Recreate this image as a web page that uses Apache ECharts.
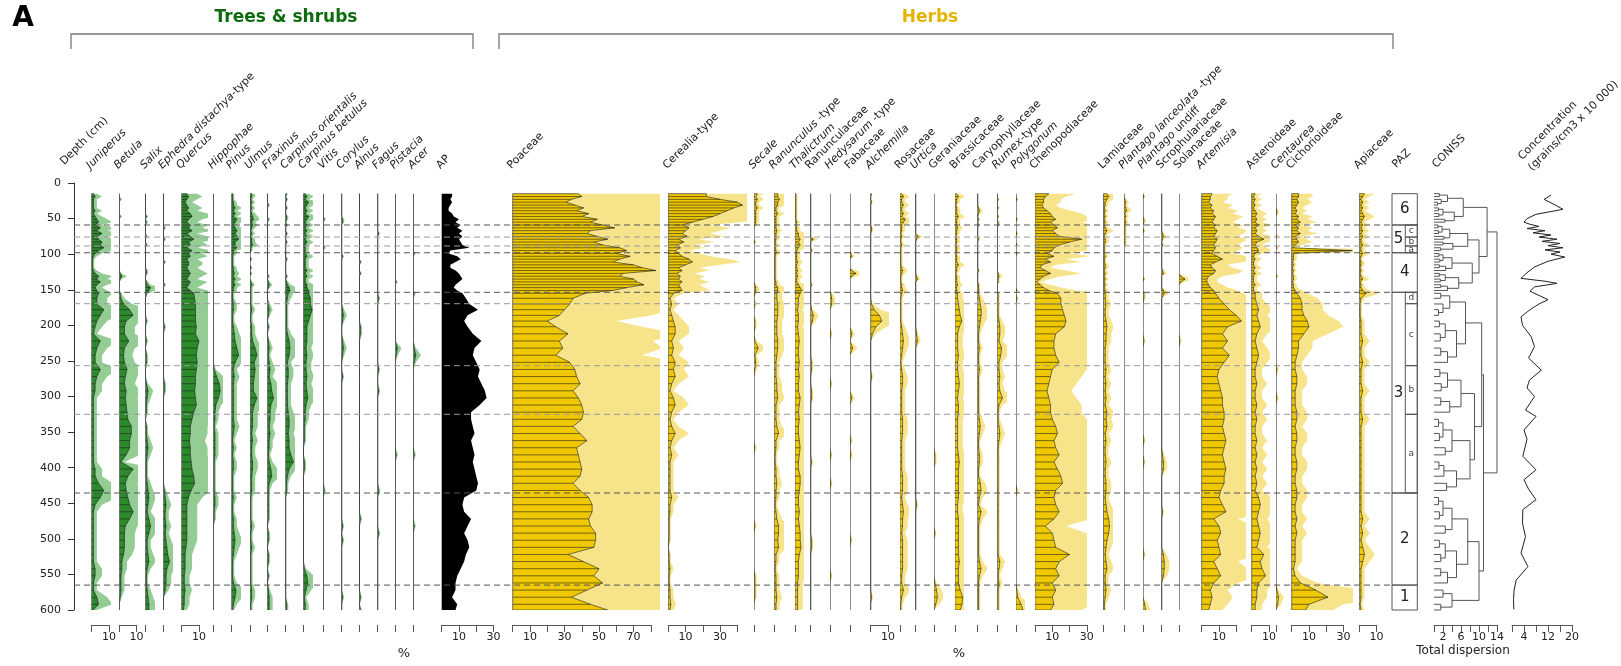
<!DOCTYPE html>
<html><head><meta charset="utf-8">
<script src="https://cdn.jsdelivr.net/npm/echarts@6/dist/echarts.min.js"></script>
<style>html,body{margin:0;padding:0;background:#fff}#c{width:1621px;height:666px}</style>
</head><body><div id="c"></div>
<script>
// ---------------- DATA ----------------
const depths = [15,19,23,27,31,35,39,43,47,51,55,59,63,67,71,75,79,83,87,91,95,99,103,107,111,115,119,123,127,131,135,139,143,147,151,155,
162,170,178,186,194,202,212,222,232,242,252,262,272,282,292,302,312,322,332,342,352,362,372,382,392,402,412,422,432,442,452,462,472,482,492,502,512,522,532,542,552,562,572,582,592,600];

const juniperus = [1,2,1,1,1,1,2,1,2,3, 4,2,5,3,6,3,4,6,5,7, 4,2,1,0.5,0.5,0.5,0.5,1,2,4, 3,5,3,2,3,4,
 3,3,7,5,3,2,1,5,3,2, 2,5,3,2,2,1,1,1,1,1, 1,1,1,1,1,2,2,4,7,5, 2,1,1,1,1,1,1,1,1,2, 2,1,1,3,4,1];
const betula = [0,0,0.5,0,0,0,0,0,0.5,0, 0,0,0,0,0,0,0,0,0,0, 0,0,0,0,0,0,0,0,0.5,1.5, 0.5,0,0,0,0,0.5,
 1,2.5,6,8,4,3,3,5.5,3,2.5, 3,4.5,3.5,3,4,3.5,4,4.5,5,7, 7,6,6,4,1,8,5,3.5,4,5, 6,8,6,3.5,3,3,3,2.5,1.5,1.5, 1,1,1,0.5,0,0];
const salix = [0,0,0,0,0,0,0,0,0.5,0, 0.5,0,0,0,0,0.5,0,0,0.5,0, 0,0,0,0,0,0,0,0.5,0.5,0, 0,0.5,1,3,2,0.5,
 0,0,0,0,0.5,0,0,0.5,0,0.5, 0.5,0,0,0.5,1.5,1,0.5,0.5,0,0.5, 0.5,1,1.5,1,0.5,0.5,0.5,1,1.5,2, 1.5,1,2,3,2,1,1,1.5,2,1, 0.5,0.5,1,1.5,2,2];
const ephedra = [0,0,0,0,0,0,0,0,0,0, 0,0,0.5,0,0,0,0.5,0,0,0, 0,0,0,0,0.5,0,0,0,0,0, 0,0,0.5,0,0,0,
 0,0,0,0,0,0.5,0,0,0,0, 0,0,0,0.5,0.5,0,0,0,0,0, 0,0,0,0,0,0,0,0,0.5,1, 1.5,1,1,1.5,1,1.5,2,2.5,3.5,2, 1.5,1.5,1,0,0,0];
const quercus = [3,4,3,2,3,4,3,5,6,4, 3,5,4,6,3,5,7,4,5,3, 6,4,5,3,4,4,3,4,5,4, 3,5,4,3,5,7,
 7.5,8,8,8,8,8.5,8,10,9,8.5, 9,8.5,8,8,7.5,8,8.5,7,6,5, 5,4.5,5,5,5.5,6,7,7.5,5.5,4, 3,3,3,3,3,3,2.5,2,2,2, 1.5,1.5,2,1.5,1.5,1];
const hippophae = [0,0,0,0,0,0,0,0,0,0, 0,0,0,0,0,0,0,0,0,0, 0,0,0,0,0,0,0,0,0,0, 0,0,0,0,0,0,
 0,0,0,0,0,0,0,0,0,0, 0,0.5,2,3.5,4,3,1.5,1,1,0.5, 1,1,1,1,0.5,0.5,0.5,0.5,0.5,1, 1,0.5,0.5,0,0,0,0,0,0,0, 0,0,0,0,0,0];
const pinus = [0.5,0.5,0.5,1,1,2,1,2,1,3, 2,1,2,3,2,3,4,2,2,3, 1,1,0.5,0.5,0.5,0.5,1,1,1.5,1, 2,1,2,1,1,0.5,
 0.5,1,1,0.5,0.5,1,1.5,2,3,4, 2,1,1.5,1,1,1,1,1,1,1.5, 1,0.5,1,0.5,1,1,0.5,0.5,0.5,1, 0.5,0.5,1,1,1.5,2,1.5,1,0.5,0.5, 0.5,1,2.5,2,1,0.5];
const ulmus = [1,1,0.5,1,0.5,1,0.5,1,1.5,2, 1,1.5,1,0.5,1,0.5,1,1,1.5,0.5, 0.5,0,0,0.5,0,0,0.5,0,0.5,0, 0,0.5,1,0.5,0.5,0.5,
 0.5,0.5,1,0.5,0.5,1,1,1.5,3,4, 2.5,3,2.5,2,2,4,2.5,1.5,1.5,1.5, 1,1.5,1,1,1.5,1.5,1,1,1,0.5, 0.5,0.5,0.5,1,0.5,0.5,1,0.5,0.5,0.5, 0.5,0.5,1,1,0.5,0.5];
const fraxinus = [0,0,0,0,0.5,0,0,0,0,0.5, 0,0,0,0,0,0,0,0,0,0, 0,0,0,0,0,0,0,0,0,0.5, 0,0.5,1,0.5,0,0,
 0,0.5,1,0.5,0,0.5,0,0.5,1,0.5, 1,1.5,1,2,2.5,3.5,2,1.5,1.5,1, 1.5,1,1,0.5,1,2,2.5,1,0.5,0.5, 0.5,0.5,0.5,0,0.5,0.5,0,0.5,0.5,0, 0.5,0,0.5,1,1,1];
const carpinusOrientalis = [0.5,0,0.5,0,0,0.5,0,0,0.5,0.5, 0,0.5,0,0,0.5,0,0,0.5,0,0, 0,0,0,0.5,0,0,0,0,0,0.5, 0,0.5,1,2,2.5,1.5,
 1,0.5,0.5,0.5,0.5,0.5,1,2,2.5,2, 1,1.5,1.5,1,1,1,1,1.5,2,2, 1.5,2,2,3,4.5,2,1,0.5,0.5,0, 0,0,0,0,0,0,0,0,0,0, 0,0,0,0,0.5,0.5];
const carpinusBetulus = [1,2,1,3,2,1,2,1,3,2, 1,2,1,2,1,2,1,2,1,1, 1,1,2,1,1,1,1,2,1,2, 1,1,2,2,3,3,
 4,4,5,4,3,2,2,2,1.5,2, 1.5,1.5,2,1.5,2,2.5,1.5,1,1,0.5, 0.5,0.5,0,0,0.5,0.5,0,0,0,0, 0,0,0,0,0,0,0,0,0,0.5, 2,2.5,1.5,0.5,1,1];
const vitis = [0,0,0,0,0,0,0,0,0,0.5, 0,0,0,0,0,0,0,0,0,0.5, 0,0,0,0,0,0,0,0,0,0, 0,0,0,0,0,0,
 0,0,0,0,0,0,0,0,0,0, 0,0,0,0,0,0,0,0,0,0, 0,0,0,0,0,0,0,0,0.5,0, 0,0,0,0,0,0,0,0,0,0, 0,0,0,0,0,0];
const corylus = [0,0,0,0,0,0,0,0,0,0.5, 0.5,0,0,0,0,0,0,0,0,0, 0,0,0.5,0,0,0,0,0,0,0, 0,0,0,0,0,0,
 0,0,0.5,1,0.5,0,0,0.5,1,0.5, 0,0,0.5,0,0,0,0,0,0,0, 0,0,0,0,0,0,0,0,0,0, 0,0,0,0.5,0,0.5,0,0,0,0, 0,0,0,0.5,0,0];
const alnus = [0,0,0,0,0,0,0,0,0,0, 0,0,0,0,0,0,0,0,0,0, 0,0,0,0,0.5,0,0,0,0.5,0, 0,0,0,0,0,0,
 0,0,0,0,0,0.5,0.5,0,0,0, 0,0,0,0,0,0,0,0,0,0, 0,0,0,0,0,0,0,0,0,0, 0,0,0.5,0,0,0,0,0,0,0, 0,0,0,0.5,0,0.5];
const fagus = [0,0,0,0,0,0,0,0,0,0, 0,0,0,0,0.5,0,0,0,0,0, 0,0,0,0,0,0,0,0,0,0, 0,0,0,0,0,0,
 0.5,0,0,0,0,0,0,0,0,0, 0,0.5,0,0,0.5,0,0,0,0,0, 0,0,0,0,0,0,0,0,0.5,0, 0,0,0,0,0.5,0,0,0,0,0, 0,0,0,0,0,0];
const pistacia = [0,0,0,0,0,0,0,0,0,0, 0,0,0,0,0,0,0,0,0,0, 0,0,0,0,0,0,0,0,0,0, 0,0.5,0,0,0,0,
 0,0,0,0,0,0,0,0,1.2,0.5, 0,0,0,0,0,0,0,0,0,0, 0,0,0,0.5,0,0,0,0,0,0, 0,0,0,0,0,0,0,0,0,0, 0,0,0,0,0,0];
const acer = [0,0,0,0,0,0,0,0,0,0, 0,0,0,0,0,0,0,0,0,0, 0,0.5,0,0,0,0,0,0,0,0, 0,0,0,0,0,0.5,
 0,0,0,0,0,0,0,0,0.5,1.5, 0.5,0,0,0,0,0,0,0,0,0, 0,0,0,0.5,0,0,0,0,0,0, 0,0,0,0.5,0,0,0,0,0,0, 0,0,0,0,0,0];
const ap = [6,6,5,6,5,4,4,6,7,10, 8,11,9,12,10,12,10,11,12,16, 5,4,9,11,8,5,5,8,10,11, 12,10,8,7,9,12,
 14,16,21,15,13,15,18,23,19,18, 20,22,21,23,25,26,22,17,17,18, 19,17,18,19,18,19,20,21,20,13, 12,13,17,15,13,15,16,14,13,11, 9,8,8,6,9,8];

const poaceae = [38,40,34,31,36,41,37,44,40,49, 45,52,59,45,43,49,55,47,52,62, 66,60,68,62,58,70,75,83,64,62, 70,72,76,66,58,42,
 35,33,30,27,20,25,32,27,29,25, 33,36,37,39,35,38,40,41,40,35, 39,43,37,38,39,40,39,35,39,44, 46,46,44,45,48,48,47,32,41,50, 47,52,43,34,45,55];
const cerealia = [22,22,30,40,43,38,34,30,26,20, 14,8,12,10,8,11,6,9,5,7, 4,6,8,12,14,10,6,8,5,7, 6,8,6,7,8,3,
 1,2,1,2,3,4,4,2,3,2, 4,3,4,2,1,3,4,2,1,2, 4,2,1,2,1,1,1,1,1,2, 1,1,0.5,0.5,0.5,0.5,0,0.5,0.5,1, 0.5,0.5,1,1,1.5,1];
const secale = [2,1,2,1,1,2,1,1,1,1, 1,0.5,0,0,0,0,0,0.5,0,0, 0,0,0,0,0,0,0,0,0,0, 0,0,0.5,1,1,0.5,
 0,0.5,0,0,0.5,0.5,0,0.5,2.5,0.5, 1,0.5,0,0,0,0,0,0,0,0, 0,0,0.5,0,0,0,0,0,0,0, 0,0,0,0.5,0,0,0,0,0,0, 0.5,0.5,0.5,0.5,0,0];
const ranunculus = [2,2,3,2,2,1,1,2,1,1, 1,1,1,1.5,1,1,1,0.5,1,0.5, 1,1,0.5,0.5,0.5,0.5,0.5,0.5,0.5,0.5, 0.5,1,1,2,2,1.5,
 1.5,2,2,2,1.5,1.5,1.5,2,2,1.5, 1,1,1,1.5,1.5,2,1,1,1,1.5, 2.5,1,1,0.5,0.5,1,1,1.5,1,1, 0.5,1,1.5,2.5,2.5,2,2.5,1,1,0.5, 1,1,1,1.5,1,1];
const thalictrum = [0.5,0.5,0.5,0.5,0.5,0.5,0.5,0.5,0.5,0.5, 1,0.5,1,1,2,2,3,2,3,2, 1,1,1,1,1.5,1,1,1.5,1,1.5, 1,1,2,3,4,3,
 2,2,1.5,2,2,1.5,2,2.5,2,2, 2.5,2,2.5,2,2,3,2.5,2,2.5,2, 2,2.5,3,2.5,2,2,3,3,2.5,2, 2,2.5,2,2.5,3,3,3.5,2.5,2,2, 2,1.5,1.5,1.5,1.5,1.5];
const ranunculaceae = [0,0,0,0,0,0,0,0,0,0, 0,0,0,0,0,0,1.5,0,0,0, 0.5,0,0,0,0,0,0,0,0,0, 0,0,0.5,0,0,0,
 0,0,0.5,1.5,1,0,0,0,0,0, 0.5,0.5,0,0,0.5,0.5,0,0,0,0, 0,0,0,0,0.5,0,0,0,0,0, 0,0,0,0,0,0.5,0.5,0,0,0, 0,0,0,0,0,0];
const hedysarum = [0,0,0,0,0,0,0,0,0,0, 0,0,0,0,0,0,0,0,0,0, 0,0,0,0,0,0,0,0,0,0, 0,0,0,0,0,0.5,
 1,1,0,0,0,0,0.5,0,0,0, 0,0,0,0.5,0,0,0,0,0,0, 0,0,0,0.5,0,0,0,0.5,0,0, 0,0,0,0,0,0,0,0,0,0, 0.5,0,0,0,0,0];
const fabaceae = [0,0,0,0,0,0,0,0,0,0, 0,0,0,0,0,0,0,0,0,0, 0,0.5,1,0,0,0,0,1,3.5,1, 0,0,0,0,0,0,
 0,0,0,0,0,0,1,0,1.5,0, 0,0,0,0,0,1,0,0,0,0, 0,0.5,0,0.5,0,0,0,0,0,0, 0,0,0,0,0,0.5,0,0,0,0, 0,0,0,0,0,0];
const alchemilla = [0.5,0,0,0.5,0,0,0,0,0,0, 0,0,0.5,0.5,0,0,0,0,0,0, 0,0,0,0,0,0,0,0,0,0, 0,0,0,0,0,0,
 0,0.5,2,5,6.5,3,1,0,0,0, 0,0,0.5,0,0,0,0,0,0,0, 0,0,0,0,0,0,0,0,0,0, 0,0,0,0,0,0,0,0,0,0, 0,0,0,0.5,0,0];
const rosaceae = [1,2,1,1,2,1,1,2,1,3, 2,1,1,1,0.5,1,0.5,0.5,1,0.5, 0.5,0.5,0.5,0.5,0.5,0.5,1,1.5,1,0.5, 0.5,0.5,1,1,1.5,1,
 0.5,0.5,0.5,0.5,0.5,1,1.5,2,1.5,1, 0.5,1,1.5,1.5,1,1,1,1,1.5,1.5, 1.5,1,1,1,1,1,1.5,1.5,1.5,1, 1.5,2,1.5,1.5,1,1.5,1.5,1.5,1.5,1.5, 1,1,2,1,0.5,0.5];
const urtica = [0,0,0,0,0,0,0,0,0,0, 0,0,0,0,0,1.5,0.5,0,0,0, 0,0,0,0,0,0,0,0,0,0.5, 1,0,0,0,0,0,
 0,0,0,0,0,0,0.5,1,0,0, 0,0,0,0,0,0,0,0,0,0, 0,0,0,0,0,0,0,0,0,0, 0.5,0,0,0,0,0,0,0,0,0, 0,0,0,0,0,0];
const geraniaceae = [0,0,0,0,0,0,0,0,0,0, 0,0,0,0,0,0,0,0,0,0, 0,0,0,0,0,0,0,0,0,0, 0,0,0,0,0,0,
 0,0,0,0,0,0,0,0,0,0, 0,0,0,0,0,0,0,0,0,0, 0,0,0,0.5,0.5,0,0,0,0,0, 0,0,0,0,0.5,0,0,0,0,0, 0,0.5,1.5,2,1,0];
const brassicaceae = [1,2,1,1,0.5,1,1,1,2,1, 1,1,1.5,1,1,0.5,1,1,0.5,1, 1,0.5,1,1,1,2,1,1,0.5,1, 1,1,1.5,1,1,1.5,
 1.5,2,2.5,3,4,2.5,1.5,1.5,1.5,2, 1.5,1.5,2,2.5,2,1.5,2,2,1.5,1.5, 1.5,1.5,1.5,2,2.5,2,2,2,2,2, 1.5,1.5,2,2,2,2,2,2,2.5,2, 2,2,3,4.5,4,3];
const caryophyllaceae = [0,0,0,0,0,0.5,1,0.5,0,0.5, 0,0.5,0,0,0,0,0.5,0,0,0, 0,0,0,0,0,0,0,0.5,0,0, 0,0,0.5,0.5,0.5,0.5,
 1,1.5,2,2,1.5,1,0.5,0.5,1,0.5, 0.5,1,0.5,0.5,0.5,0.5,0.5,0.5,1,1.5, 1,0.5,0.5,1,1,0.5,0.5,1.5,2,1, 0.5,2,1,0.5,0.5,0.5,0.5,0.5,1,2, 1,0.5,0.5,0.5,0.5,0.5];
const rumex = [0,0,0.5,0,0,0.5,0,0,0.5,0, 0.5,0.5,0,0,0,0,0,0,0,0, 0,0,0,0,0,0,0,0,0.5,1, 0.5,0.5,0,0,0,0.5,
 0.5,0.5,0.5,0.5,1,1.5,1.5,1,2.5,2, 1,1,1.5,1,1.5,3,1,0.5,0.5,1, 1.5,1,0.5,0.5,0.5,0.5,0.5,0.5,0.5,0.5, 0.5,0.5,0.5,0.5,0.5,0.5,0.5,0.5,1.5,1, 0.5,1,0.5,0.5,0.5,0.5];
const polygonum = [0,0,0.5,0,0,0,0,0,0,0.5, 0,0,0,0,0.5,0,0,0,0.5,0, 0,0.5,0,0,0,0,0,0,0,0, 0,0,0,0,0.5,0,
 0.5,0,0,0,0,0,0,0,0,0, 0,0,0,0,0,0,0,0,0,0, 0,0,0,0,0,0,0,0,0.5,0, 0,0,0,0,0,0,0,0,0,0, 0,0,0.5,1,3,4];
const chenopodiaceae = [8,6,5,5,4,5,7,9,10,12, 9,11,13,10,12,14,27,20,14,11, 10,7,11,6,9,4,3,6,9,5, 3,1,3,5,8,13,
 15,15,16,17,18,17,12,11,11,12, 14,10,9,8,7,8,9,9,10,12, 13,11,12,14,11,13,15,16,12,11, 12,14,11,6,10,11,12,20,14,12, 14,10,12,10,11,9];
const lamiaceae = [2,3,2,1,1,0.5,1,0.5,1,0.5, 1,0.5,1,2,1,0.5,1,1,0.5,0.5, 0.5,0.5,1,0.5,0.5,1,1,0.5,1,0.5, 1,0.5,1,0.5,1,1,
 1,1.5,1,1,1.5,2,1.5,1.5,1,1, 1,1.5,1,1.5,1,1.5,1,2,1.5,2, 1,1.5,1,1,1.5,1,1,1.5,1.5,1, 1.5,2,3,3.5,3,2,1.5,1,1.5,2, 1,1,1.5,1,0.5,0.5];
const plantagoLanceolata = [0,0,0.5,1,0.5,1,1.5,0.5,1,0.5, 1,0.5,0.5,0.5,0.5,0.5,0.5,0.5,0.5,0, 0,0,0,0,0,0,0,0,0,0, 0,0,0,0,0,0,
 0,0,0,0,0,0,0,0,0,0, 0,0,0,0,0,0,0,0,0,0, 0,0,0,0,0,0,0,0,0,0, 0,0,0,0,0,0,0,0,0,0, 0,0,0,0,0,0];
const plantagoUndiff = [0,0.5,0,0,0,0,0,0,0,0.5, 0.5,0,0,0.5,0,0,0,0,0,0, 0,0,0,0,0,0,0,0,0,0, 0.5,0,0,0,0,0.5,
 0.5,0,0,0,0,0,0,0.5,0,0, 0,0,0,0,0,0,0,0,0,0, 0,0.5,0,0,0.5,0,0,0,0,0, 0,0,0,0,0,0,0,0.5,0,0, 0,0,0,0,1,1.5];
const scrophulariaceae = [0,0,0,0,0,0,0,0,0,0, 0,0,0,0,0.5,1,0.5,0,0.5,0, 0,0,0,0,0,0,0,0.5,1,0, 0,0,0,0,1,1.5,
 0,0,0,0,0,0,0,0,0,0, 0,0,0,0,0,0,0,0,0,0, 0,0,0,0.5,1,1,0,0,0,0, 0,0.5,0,0,0,0,0,1,1.5,1.5, 1,0,0,0,0,0];
const solanaceae = [0,0,0,0,0,0,0,0,0,0, 0,0,0,0,0,0,0,0,0,0, 0,0,0,0,0,0,0,0,0,1, 3.5,1,0,0,0,0,
 0,0,0,0,0,0,0,0.5,0,0, 0,0,0,0,0,0,0,0,0,0, 0,0,0,0,0,0,0,0,0,0, 0,0,0,0,0,0,0,0,0,0, 0,0,0,0,0,0];
const artemisia = [6,5,5,4,6,5,7,6,8,7, 6,8,7,9,8,7,9,8,7,8, 7,6,9,12,8,5,6,8,7,4, 3,3,4,5,7,8,
 10,13,16,20,23,15,12,15,12,16, 13,10,9,10,11,12,12,13,13,12, 13,14,13,12,13,14,13,13,11,10, 12,14,7,10,11,9,10,11,7,9, 11,7,5,6,5,4];
const asteroideae = [2,1,2,1,2,1,2,3,2,3, 2,4,2,3,2,4,7,3,2,3, 4,2,1,2,1,1,2,1,2,1, 1,1,2,1,1,2,
 2,3,4,3,4,5,3,2,3,4, 3,2,2,3,2,2,3,2,3,2, 2,3,2,3,2,3,2,3,2,4, 5,4,3,4,5,4,3,7,5,6, 8,4,3,3,2,2];
const centaurea = [0,0,0,0,0,0,0.5,0.5,0,0, 0,0,0,0,0,0.5,0,0,0,0.5, 0,0,0,0,0,0,0,0,0,0.5, 0,0,0,0,0,0,
 0,0,0,0,0,0,0,0,0,0, 0,0.5,0,0,0,0.5,0,0,0,0, 0,0,0,0,0,0,0,0,0,0, 0,0,0,0,0,0,0,0,0,0, 0,0,0.5,1.5,1,0];
const cichorioideae = [4,4,3,4,3,2,3,2,4,3, 5,2,4,3,5,2,3,4,2,1, 35,1,1,1,0.5,1,0.5,1,0.5,1, 1,0.5,1,1,2,3,
 5,6,6,7,9,10,7,4,4,3, 2,2,3,3,2,2,2,3,3,2, 3,3,2,2,3,3,2,2,3,3, 2,2,3,2,3,2,2,2,2,1, 2,5,14,21,10,8];
const apiaceae = [3,2,1,2,1,2,1,2,3,2, 1,2,1,2,1,2,1,1,2,1, 1,2,1,0.5,1,1,0.5,1,0.5,1, 2,0.5,1,1,2,4,
 1,0.5,0.5,0.5,1,1,1,2,1,1, 2,1,1,1,2,1,1,1,2,1, 1,1,1,1,1,1,1,1,1,1, 1,1,2,1,2,1,2,3,2,1, 1,1,1,1,0.5,1];

const concDepths = [17,23,30,37,44,50,55,58,61,64,67,70,73,76,79,82,85,88,91,94,97,100,104,110,118,126,134,138,141,146,152,158,164,170,178,188,200,216,230,246,263,277,288,300,319,328,347,360,384,403,417,430,445,459,478,497,520,539,558,572,585,599];
const concValues = [13,10.7,14,17,8,5,4,6,9,5,11,7,13,9,15,10,16,12,17,11,16,13,17.6,12,7.5,5,3,11,15,7.5,6,9,12,9,6,3,3.5,6.4,7.5,5.5,9.8,5.8,5,7.5,4.5,8,4,5,3.6,8,4,5.5,8,3.6,3.5,4.5,3,5.3,1.4,0.7,0.5,0.6];

// CONISS: node = [totalDispersion, childA, childB]; leaf = sample depth
const conissTree = [14.0,
  [11.8,
    [6.5, [3.0, [1.2, 15, 19], [1.6, 23, [0.8, 27, 31]]], [4.5, [2.0, [1.0, 35, 39], [1.1, 43, 47]], [2.4, 51, 55]]],
    [10.0,
      [7.5, [3.5, [1.8, [0.9, 59, 63], [1.0, 67, 71]], [2.2, 75, 79]], [4.2, [2.0, 83, 87], [1.5, 91, 95]]],
      [8.5, [4.0, [2.0, [1.1, 99, 103], [1.3, 107, 111]], [2.6, [1.2, 115, 119], 123]], [5.5, [2.5, [1.2, 127, 131], [1.4, 135, 139]], [3.0, [1.5, 143, 147], 151]]]]],
  [11.0,
    [10.6,
      [7.0, [3.5, [1.5, 155, 162], [2.0, 170, [1.0, 178, 186]]], [5.0, [2.5, [1.2, 194, 202], [1.4, 212, 222]], [3.0, [1.5, 232, 242], 252]]],
      [9.0,
        [6.0, [3.0, [1.3, 262, 272], [1.6, 282, 292]], [3.5, [1.5, 302, 312], 322]],
        [8.0, [4.0, [2.0, [1.0, 332, 342], [1.2, 352, 362]], [2.5, 372, 382]], [5.0, [2.2, [1.1, 392, 402], 412], [2.8, 422, 432]]]]],
    [10.0,
      [7.5, [4.0, [2.0, [1.0, 442, 452], [1.2, 462, 472]], [2.5, 482, 492]], [5.0, [2.5, [1.2, 502, 512], [1.5, 522, 532]], [3.0, [1.5, 542, 552], 562]]],
      [4.0, [2.0, 572, 582], [1.5, 592, 600]]]]];

const zoneNames = ['6','5','4','3','2','1'];
const zoneTops = [15,59,98,153.6,435.6,565];
const zoneBottoms = [59,98,153.6,435.6,565,600];
const subzoneNames = ['c','b','a','d','c','b','a'];
const subzoneTops = [59,76,88.5,153.6,169.6,256.7,325];
const subzoneBottoms = [76,88.5,98,169.6,256.7,325,435.6];
const boundaries = [59,76,88.5,98,153.6,169.6,256.7,325,435.6,565];
const boundaryMajor = [1,0,0,1,1,0,0,0,1,1];

// ---------------- LAYOUT / STYLE ----------------
const FONT = 'DejaVu Sans';
const S = 1.727;          // px per percent
const TOP = 183, H = 427; // depth 0..600
const EXAG = 3;           // exaggeration of the light curves
const LABEL_DX = 0.5, LABEL_Y = 171;
const COL = {
  tree: {dark:'#2b8b2b', light:'#93cd93'},
  herb: {dark:'#f0c800', light:'#f7e48a'},
  ap:   {dark:'#000000', light:null}
};
const columns = [
 {label:'{i|Juniperus}', values:juniperus, left:91.7, max:11, kind:'tree', scaleMax:10, ticks:[0,10], labels:[10]},
 {label:'{i|Betula}', values:betula, left:119.3, max:10, kind:'tree', scaleMax:10, ticks:[0,10], labels:[10]},
 {label:'{i|Salix}', values:salix, left:145.5, max:5, kind:'tree'},
 {label:'{i|Ephedra distachya}-type', values:ephedra, left:163.5, max:5, kind:'tree'},
 {label:'{i|Quercus}', values:quercus, left:181.7, max:15, kind:'tree', scaleMax:10, ticks:[0,10], labels:[10]},
 {label:'{i|Hippophae}', values:hippophae, left:213.3, max:5, kind:'tree'},
 {label:'{i|Pinus}', values:pinus, left:231.7, max:5, kind:'tree'},
 {label:'{i|Ulmus}', values:ulmus, left:250, max:5, kind:'tree'},
 {label:'{i|Fraxinus}', values:fraxinus, left:267.5, max:5, kind:'tree'},
 {label:'{i|Carpinus orientalis}', values:carpinusOrientalis, left:285.7, max:5, kind:'tree'},
 {label:'{i|Carpinus betulus}', values:carpinusBetulus, left:303.5, max:5, kind:'tree'},
 {label:'{i|Vitis}', values:vitis, left:323.3, max:5, kind:'tree'},
 {label:'{i|Corylus}', values:corylus, left:341.7, max:5, kind:'tree'},
 {label:'{i|Alnus}', values:alnus, left:359.5, max:5, kind:'tree'},
 {label:'{i|Fagus}', values:fagus, left:377.7, max:5, kind:'tree'},
 {label:'{i|Pistacia}', values:pistacia, left:395.3, max:5, kind:'tree'},
 {label:'{i|Acer}', values:acer, left:413.3, max:5, kind:'tree'},
 {label:'AP', values:ap, left:441.7, max:30, kind:'ap', scaleMax:30, ticks:[0,10,20,30], labels:[10,30]},
 {label:'Poaceae', values:poaceae, left:512.7, max:85, kind:'herb', scaleMax:80, ticks:[0,10,20,30,40,50,60,70,80], labels:[10,30,50,70]},
 {label:'Cerealia-type', values:cerealia, left:668.3, max:45, kind:'herb', scaleMax:40, ticks:[0,10,20,30,40], labels:[10,30]},
 {label:'{i|Secale}', values:secale, left:754, max:5, kind:'herb'},
 {label:'{i|Ranunculus} -type', values:ranunculus, left:774.3, max:5, kind:'herb'},
 {label:'{i|Thalictrum}', values:thalictrum, left:795, max:5, kind:'herb'},
 {label:'Ranunculaceae', values:ranunculaceae, left:810.7, max:5, kind:'herb'},
 {label:'{i|Hedysarum} -type', values:hedysarum, left:830, max:5, kind:'herb'},
 {label:'Fabaceae', values:fabaceae, left:850, max:5, kind:'herb'},
 {label:'{i|Alchemilla}', values:alchemilla, left:870.7, max:10, kind:'herb', scaleMax:10, ticks:[0,10], labels:[10]},
 {label:'Rosaceae', values:rosaceae, left:900, max:5, kind:'herb'},
 {label:'{i|Urtica}', values:urtica, left:915.7, max:5, kind:'herb'},
 {label:'Geraniaceae', values:geraniaceae, left:934, max:5, kind:'herb'},
 {label:'Brassicaceae', values:brassicaceae, left:955, max:5, kind:'herb'},
 {label:'Caryophyllaceae', values:caryophyllaceae, left:977.7, max:5, kind:'herb'},
 {label:'{i|Rumex}-type', values:rumex, left:997.3, max:5, kind:'herb'},
 {label:'{i|Polygonum}', values:polygonum, left:1016, max:5, kind:'herb'},
 {label:'Chenopodiaceae', values:chenopodiaceae, left:1035, max:30, kind:'herb', scaleMax:30, ticks:[0,10,20,30], labels:[10,30]},
 {label:'Lamiaceae', values:lamiaceae, left:1103.5, max:5, kind:'herb'},
 {label:'{i|Plantago lanceolata} -type', values:plantagoLanceolata, left:1124, max:5, kind:'herb'},
 {label:'{i|Plantago} undiff', values:plantagoUndiff, left:1143, max:5, kind:'herb'},
 {label:'Scrophulariaceae', values:scrophulariaceae, left:1161.7, max:5, kind:'herb'},
 {label:'Solanaceae', values:solanaceae, left:1179, max:5, kind:'herb'},
 {label:'{i|Artemisia}', values:artemisia, left:1201.7, max:25, kind:'herb', scaleMax:20, ticks:[0,10,20], labels:[10]},
 {label:'Asteroideae', values:asteroideae, left:1251.7, max:10, kind:'herb', scaleMax:10, ticks:[0,10], labels:[10]},
 {label:'{i|Centaurea}', values:centaurea, left:1276, max:5, kind:'herb'},
 {label:'Cichorioideae', values:cichorioideae, left:1291.7, max:35, kind:'herb', scaleMax:30, ticks:[0,10,20,30], labels:[10,30]},
 {label:'Apiaceae', values:apiaceae, left:1359.3, max:10, kind:'herb', scaleMax:10, ticks:[0,10], labels:[10]}
];

// ---------------- BUILD ----------------
const grids = [], xAxes = [], yAxes = [], series = [], graphics = [];
function addGrid(g) { grids.push(Object.assign({containLabel:false, outerBoundsMode:'none'}, g)); return grids.length - 1; }
function hiddenX(gi, max) { xAxes.push({gridIndex:gi, type:'value', min:0, max:max, show:false}); return xAxes.length - 1; }
function depthY(gi) { yAxes.push({gridIndex:gi, type:'value', min:0, max:600, inverse:true, show:false}); return yAxes.length - 1; }
function scaleAxis(left, sMax, pxPerUnit, ticks, labels, withLine) {
  const g = addGrid({left:left, top:624, width:sMax * pxPerUnit, height:1});
  xAxes.push({gridIndex:g, type:'value', min:0, max:sMax, position:'bottom',
    axisLine:{show:withLine, onZero:false, lineStyle:{color:'#555', width:1}},
    axisTick:{show:true, customValues:ticks, length:7, lineStyle:{color:'#555', width:1}},
    axisLabel:{show:labels.length > 0, customValues:labels, margin:7, fontSize:11, fontFamily:FONT, color:'#222'},
    splitLine:{show:false}});
  yAxes.push({gridIndex:g, type:'value', show:false});
}
function areaRenderer(pairs, fill, detailed) {
  return function (params, api) {
    if (params.dataIndex !== 0) return;
    const n = pairs.length;
    const curve = pairs.map(p => api.coord(p));
    const b0 = api.coord([0, pairs[0][1]]), b1 = api.coord([0, pairs[n - 1][1]]);
    const children = [{type:'polygon', shape:{points:[b0].concat(curve, [b1])}, style:{fill:fill, stroke:null}}];
    if (detailed) {
      children.push({type:'line', shape:{x1:b0[0], y1:b0[1], x2:b1[0], y2:b1[1]}, style:{stroke:'#777', lineWidth:1}});
      pairs.forEach((p, i) => {
        if (p[0] > 0) {
          const a = api.coord([0, p[1]]);
          children.push({type:'line', shape:{x1:a[0], y1:a[1], x2:curve[i][0], y2:curve[i][1]}, style:{stroke:'#222', lineWidth:0.6}});
        }
      });
      children.push({type:'polyline', shape:{points:curve}, style:{stroke:'#222', lineWidth:0.6, fill:null}});
    }
    return {type:'group', children:children};
  };
}
function topLabel(text, x, y) {
  graphics.push({type:'text', x:x, y:y, rotation:Math.PI / 4, z:100,
    style:{text:text, x:0, y:0, textAlign:'left', verticalAlign:'bottom', textVerticalAlign:'bottom',
      fontSize:11, fontFamily:FONT, fill:'#222',
      rich:{i:{fontStyle:'italic', fontSize:11, fontFamily:FONT, fill:'#222'}}}});
}

columns.forEach(c => {
  const gi = addGrid({left:c.left, top:TOP, width:c.max * S, height:H});
  const xd = hiddenX(gi, c.max), xl = hiddenX(gi, c.max / EXAG), yi = depthY(gi);
  const pairs = depths.map((d, i) => [c.values[i], d]);
  const col = COL[c.kind];
  if (col.light) series.push({type:'custom', xAxisIndex:xl, yAxisIndex:yi, data:pairs, clip:true, silent:true, renderItem:areaRenderer(pairs, col.light, false)});
  series.push({type:'custom', xAxisIndex:xd, yAxisIndex:yi, data:pairs, clip:true, silent:true, renderItem:areaRenderer(pairs, col.dark, c.kind !== 'ap')});
  scaleAxis(c.left, c.scaleMax || c.max, S, c.ticks || [0], c.labels || [], !!c.ticks);
  topLabel(c.label, c.left + LABEL_DX, LABEL_Y);
});

// depth axis
const dg = addGrid({left:74, top:TOP, width:1, height:H});
hiddenX(dg, 1);
yAxes.push({gridIndex:dg, type:'value', min:0, max:600, interval:50, inverse:true, position:'left',
  axisLine:{show:true, onZero:false, lineStyle:{color:'#333', width:1}},
  axisTick:{show:true, length:6, lineStyle:{color:'#333'}},
  axisLabel:{fontSize:11, fontFamily:FONT, color:'#222', margin:13}, splitLine:{show:false}});

// PAZ
const SPLIT = 0.525;
const pg = addGrid({left:1392, top:TOP, width:25.3, height:H});
const px = hiddenX(pg, 1), py = depthY(pg);
series.push({type:'custom', xAxisIndex:px, yAxisIndex:py, silent:true,
  data:zoneNames.map((z, i) => [zoneTops[i], zoneBottoms[i]]),
  renderItem:(params, api) => {
    const i = params.dataIndex, t = api.value(0), b = api.value(1);
    const a = api.coord([0, t]), e = api.coord([1, b]);
    const hasSub = ['5', '3'].indexOf(zoneNames[i]) >= 0;
    const c = api.coord([hasSub ? SPLIT / 2 : 0.5, (t + b) / 2]);
    return {type:'group', children:[
      {type:'rect', shape:{x:a[0], y:a[1], width:e[0] - a[0], height:e[1] - a[1]}, style:{fill:'transparent', stroke:'#555', lineWidth:1}},
      {type:'text', x:c[0], y:c[1], style:{text:zoneNames[i], textAlign:'center', verticalAlign:'middle', textVerticalAlign:'middle', fontSize:15, fontFamily:FONT, fill:'#222'}}]};
  }});
series.push({type:'custom', xAxisIndex:px, yAxisIndex:py, silent:true,
  data:subzoneNames.map((z, i) => [subzoneTops[i], subzoneBottoms[i]]),
  renderItem:(params, api) => {
    const i = params.dataIndex, t = api.value(0), b = api.value(1);
    const a = api.coord([SPLIT, t]), e = api.coord([1, b]);
    const c = api.coord([(SPLIT + 1) / 2, (t + b) / 2]);
    return {type:'group', children:[
      {type:'rect', shape:{x:a[0], y:a[1], width:e[0] - a[0], height:e[1] - a[1]}, style:{fill:'transparent', stroke:'#555', lineWidth:1}},
      {type:'text', x:c[0], y:c[1], style:{text:subzoneNames[i], textAlign:'center', verticalAlign:'middle', textVerticalAlign:'middle', fontSize:9, fontFamily:FONT, fill:'#444'}}]};
  }});

// CONISS
const CMAX = 14, CPX = 4.5;
const cg = addGrid({left:1434, top:TOP, width:CMAX * CPX, height:H});
const cx = hiddenX(cg, CMAX), cy = depthY(cg);
series.push({type:'custom', xAxisIndex:cx, yAxisIndex:cy, silent:true, data:[[0, 0]],
  renderItem:(params, api) => {
    if (params.dataIndex !== 0) return;
    const children = [];
    const seg = (x1, y1, x2, y2) => { const a = api.coord([x1, y1]), b = api.coord([x2, y2]);
      children.push({type:'line', shape:{x1:a[0], y1:a[1], x2:b[0], y2:b[1]}, style:{stroke:'#555', lineWidth:1}}); };
    const walk = node => {
      if (typeof node === 'number') return {y:node, h:0};
      const A = walk(node[1]), B = walk(node[2]), h = node[0];
      seg(A.h, A.y, h, A.y); seg(B.h, B.y, h, B.y); seg(h, A.y, h, B.y);
      return {y:(A.y + B.y) / 2, h:h};
    };
    walk(conissTree);
    return {type:'group', children:children};
  }});
scaleAxis(1434, CMAX, CPX, [0,2,4,6,8,10,12,14], [2,6,10,14], true);

// Concentration
const KMAX = 20, KPX = 3;
const kg = addGrid({left:1512, top:TOP, width:KMAX * KPX, height:H});
const kx = hiddenX(kg, KMAX), ky = depthY(kg);
series.push({type:'line', xAxisIndex:kx, yAxisIndex:ky, data:concDepths.map((d, i) => [concValues[i], d]),
  showSymbol:false, symbol:'none', silent:true, lineStyle:{color:'#222', width:1}});
scaleAxis(1512, KMAX, KPX, [0,4,8,12,16,20], [4,12,20], true);

// zone boundary dashed lines
const og = addGrid({left:74, top:TOP, width:1392 - 74, height:H});
const ox = hiddenX(og, 1), oy = depthY(og);
series.push({type:'custom', xAxisIndex:ox, yAxisIndex:oy, silent:true, z:10,
  data:boundaries.map((d, i) => [d, boundaryMajor[i]]),
  renderItem:(params, api) => {
    const d = api.value(0), a = api.coord([0, d]), b = api.coord([1, d]);
    return {type:'line', shape:{x1:a[0], y1:a[1], x2:b[0], y2:b[1]},
      style:{stroke:api.value(1) ? '#555' : '#9a9a9a', lineWidth:1, lineDash:[6, 4]}};
  }});

// texts
topLabel('Depth (cm)', 66, 167);
topLabel('PAZ', 1398, 170);
topLabel('CONISS', 1438, 170);
topLabel('Concentration', 1524, 162);
topLabel('(grains/cm3 x 10 000)', 1534, 173);
graphics.push({type:'text', x:23, y:19, style:{text:'A', textAlign:'center', verticalAlign:'middle', fontSize:28, fontWeight:'bold', fontFamily:FONT, fill:'#000'}});
graphics.push({type:'text', x:286, y:18, style:{text:'Trees & shrubs', textAlign:'center', verticalAlign:'middle', fontSize:17, fontWeight:'bold', fontFamily:FONT, fill:'#0d6b0d'}});
graphics.push({type:'text', x:930, y:18, style:{text:'Herbs', textAlign:'center', verticalAlign:'middle', fontSize:17, fontWeight:'bold', fontFamily:FONT, fill:'#e6b400'}});
graphics.push({type:'polyline', shape:{points:[[71,49],[71,34],[473,34],[473,49]]}, style:{stroke:'#777', lineWidth:1.3, fill:null}});
graphics.push({type:'polyline', shape:{points:[[499,49],[499,34],[1393,34],[1393,49]]}, style:{stroke:'#777', lineWidth:1.3, fill:null}});
graphics.push({type:'text', x:404, y:654, style:{text:'%', textAlign:'center', verticalAlign:'middle', fontSize:13, fontFamily:FONT, fill:'#222'}});
graphics.push({type:'text', x:959, y:654, style:{text:'%', textAlign:'center', verticalAlign:'middle', fontSize:13, fontFamily:FONT, fill:'#222'}});
graphics.push({type:'text', x:1463, y:651, style:{text:'Total dispersion', textAlign:'center', verticalAlign:'middle', fontSize:12, fontFamily:FONT, fill:'#222'}});

const chart = echarts.init(document.getElementById('c'), null, {renderer:'canvas'});
chart.setOption({animation:false, backgroundColor:'#fff', grid:grids, xAxis:xAxes, yAxis:yAxes, series:series, graphic:graphics});
</script>
</body></html>
